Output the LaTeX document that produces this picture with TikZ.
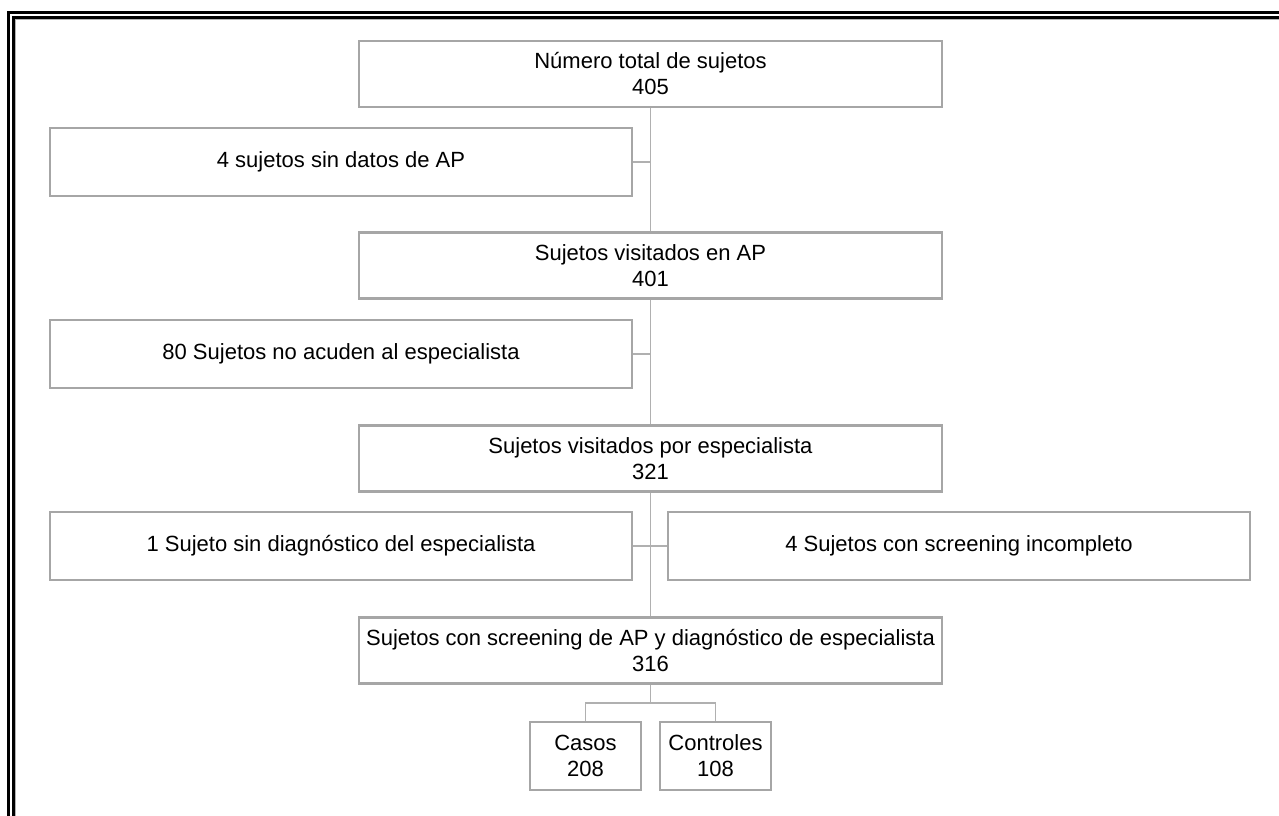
\documentclass[tikz,border=0pt]{standalone}
\usepackage{fontspec}
\setmainfont{Liberation Sans}
\definecolor{boxgray}{RGB}{166,166,166}
\definecolor{linegray}{RGB}{176,176,176}
\begin{document}
\begin{tikzpicture}[x=1pt,y=-1pt,
  box/.style={draw=boxgray, line width=2.6pt, fill=white, rectangle, inner sep=0pt,
    align=center, font=\fontsize{22}{26}\selectfont},
  mainbox/.style={box, minimum width=583pt, minimum height=66pt},
  sidebox/.style={box, minimum width=582pt, minimum height=68pt},
  leafbox/.style={box, minimum width=111pt, minimum height=68pt},
  conn/.style={draw=linegray, line width=1.1pt}]
\useasboundingbox (0,0) rectangle (1279,816);
% outer double frame
\draw[line width=3pt] (8.5,816) -- (8.5,12.5) -- (1279,12.5);
\draw[line width=2.6pt] (13.5,816) -- (13.5,17.3) -- (1279,17.3);
\draw[line width=0.8pt, gray!60] (15.2,816) -- (15.2,19) -- (1279,19);
% connectors (drawn first, boxes cover ends)
\node[mainbox] (b1) at (650.5,74) {Número total de sujetos\\405};
\node[sidebox] (b2) at (341,162) {4 sujetos sin datos de AP};
\node[mainbox] (b3) at (650.5,265.5) {Sujetos visitados en AP\\401};
\node[sidebox] (b4) at (341,354) {80 Sujetos no acuden al especialista};
\node[mainbox] (b5) at (650.5,458.5) {Sujetos visitados por especialista\\321};
\node[sidebox] (b6l) at (341,546) {1 Sujeto sin diagnóstico del especialista};
\node[sidebox] (b6r) at (959,546) {4 Sujetos con screening incompleto};
\node[mainbox] (b7) at (650.5,650.5) {Sujetos con screening de AP y diagnóstico de especialista\\316};
\node[leafbox] (casos) at (585.5,756) {Casos\\208};
\node[leafbox] (ctrl) at (715.5,756) {Controles\\108};
\coordinate (j) at (650.5,703);
\path[conn] (b1.south) -- (b3.north);
\path[conn] (b3.south) -- (b5.north);
\path[conn] (b5.south) -- (b7.north);
\path[conn] (b2.east) -- (b2.east -| b1.south);
\path[conn] (b4.east) -- (b4.east -| b3.south);
\path[conn] (b6l.east) -- (b6r.west);
\path[conn] (b7.south) -- (j);
\path[conn] (casos.north) |- (j) -| (ctrl.north);
\end{tikzpicture}
\end{document}
